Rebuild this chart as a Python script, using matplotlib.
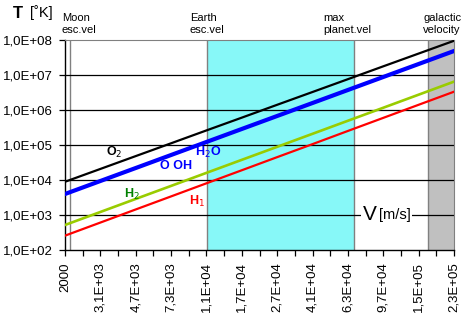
import matplotlib
matplotlib.use('Agg')
import matplotlib.pyplot as plt
import numpy as np

plt.rcParams['font.family'] = ['Liberation Sans', 'DejaVu Sans']

# velocity categories (m/s), one label every second category
v_labels = ['2000', '3,1E+03', '4,7E+03', '7,3E+03', '1,1E+04', '1,7E+04',
            '2,7E+04', '4,1E+04', '6,3E+04', '9,7E+04', '1,5E+05', '2,3E+05']
n_cat = 23

# temperature (K) read at the labelled velocities
T_O2 = [8900, 20700, 48200, 112000, 261000, 605000,
        1.41e6, 3.27e6, 7.6e6, 1.77e7, 4.1e7, 9.5e7]
T_O_OH_H2O = [3980, 9360, 22000, 51800, 122000, 287000,
              675000, 1.585e6, 3.73e6, 8.77e6, 2.06e7, 4.85e7]
T_H2 = [518, 1220, 2880, 6780, 16000, 37700,
        88700, 209000, 493000, 1.16e6, 2.74e6, 6.46e6]
T_H1 = [257, 608, 1440, 3400, 8050, 19000,
        45000, 106000, 252000, 596000, 1.41e6, 3.33e6]

y_ticks = [1e2, 1e3, 1e4, 1e5, 1e6, 1e7, 1e8]
y_labels = ['1,0E+02', '1,0E+03', '1,0E+04', '1,0E+05', '1,0E+06', '1,0E+07', '1,0E+08']

# reference velocities, in category positions
moon_x = 0.28
earth_x = 8.05
planet_x = 16.36
galactic_x = 20.55

fig = plt.figure(figsize=(4.66, 3.27), dpi=100)
ax = fig.add_axes([65 / 466, 1 - 250 / 327, 389 / 466, 210 / 327])

x = np.arange(0, n_cat, 2)
ax.axvspan(earth_x, planet_x, color='#87F8F8', zorder=0, lw=0)
ax.axvspan(galactic_x, n_cat - 1, color='#C0C0C0', zorder=0, lw=0)
for xv in [moon_x, earth_x, planet_x, galactic_x]:
    ax.axvline(xv, color='#808080', lw=1.0, zorder=1)
for yv in y_ticks[1:-1]:
    ax.axhline(yv, color='black', lw=0.9, zorder=1)

ax.plot(x, T_O2, color='black', lw=1.6, zorder=3)
ax.plot(x, T_O_OH_H2O, color='#0000FF', lw=3.0, zorder=3)
ax.plot(x, T_H2, color='#99CC00', lw=1.9, zorder=3)
ax.plot(x, T_H1, color='#FF0000', lw=1.6, zorder=3)

ax.set_yscale('log')
ax.set_ylim(1e2, 1e8)
ax.set_xlim(0, n_cat - 1)
ax.minorticks_off()
ax.set_yticks(y_ticks)
ax.set_yticklabels(y_labels, fontsize=9.5)
ax.set_xticks(range(n_cat))
xl = []
for i in range(n_cat):
    xl.append(v_labels[i // 2] if i % 2 == 0 else '')
ax.set_xticklabels(xl, rotation=90, fontsize=9.5)
ax.tick_params(axis='both', direction='out', length=4, width=0.9, pad=5, color='black')

ax.spines['top'].set_color('#808080')
ax.spines['right'].set_color('#808080')
ax.spines['left'].set_linewidth(1.0)
ax.spines['bottom'].set_linewidth(1.0)

# series labels
ax.text(2.3, 10 ** 4.78, r'O$_2$', color='black', fontsize=9, fontweight='bold', ha='left', va='center')
ax.text(7.35, 10 ** 4.78, r'H$_2$O', color='#0000FF', fontsize=9, fontweight='bold', ha='left', va='center')
ax.text(5.37, 10 ** 4.4, 'O OH', color='#0000FF', fontsize=9, fontweight='bold', ha='left', va='center')
ax.text(3.34, 10 ** 3.6, r'H$_2$', color='#008000', fontsize=9, fontweight='bold', ha='left', va='center')
ax.text(7.0, 10 ** 3.4, r'H$_1$', color='#FF0000', fontsize=9, fontweight='bold', ha='left', va='center')

ax.text(16.85, 1e3, 'V', fontsize=15, ha='left', va='center', zorder=4,
        bbox=dict(facecolor='white', edgecolor='none', pad=1))
ax.text(17.75, 1e3, '[m/s]', fontsize=10.5, ha='left', va='center', zorder=4,
        bbox=dict(facecolor='white', edgecolor='none', pad=1))

# top annotations (figure pixels)
fig.text(13 / 466, 1 - 13 / 327, 'T', fontsize=12, fontweight='bold', ha='left', va='center')
fig.text(30 / 466, 1 - 13 / 327, '[˚K]', fontsize=10.5, ha='left', va='center')
for px, txt in [(62, 'Moon\nesc.vel'), (190, 'Earth\nesc.vel'),
                (323, 'max\nplanet.vel'), (423, 'galactic\nvelocity')]:
    fig.text(px / 466, 1 - 24 / 327, txt, fontsize=8, ha='left', va='center', linespacing=1.3)

fig.savefig('out.png', dpi=100)
